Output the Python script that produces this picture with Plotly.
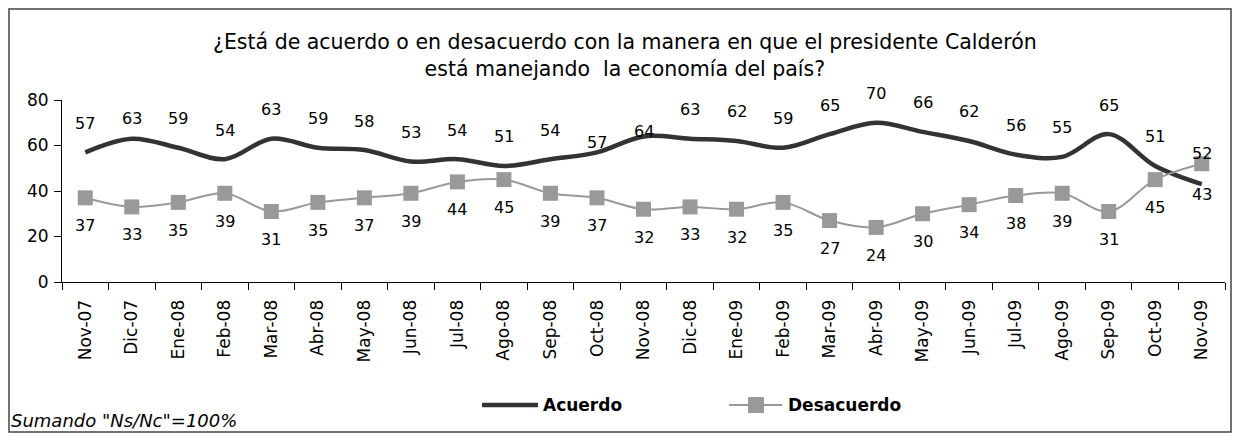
import plotly.graph_objects as go

months = ["Nov-07", "Dic-07", "Ene-08", "Feb-08", "Mar-08", "Abr-08", "May-08",
          "Jun-08", "Jul-08", "Ago-08", "Sep-08", "Oct-08", "Nov-08", "Dic-08",
          "Ene-09", "Feb-09", "Mar-09", "Abr-09", "May-09", "Jun-09", "Jul-09",
          "Ago-09", "Sep-09", "Oct-09", "Nov-09"]
acuerdo = [57, 63, 59, 54, 63, 59, 58, 53, 54, 51, 54, 57, 64, 63, 62, 59, 65,
           70, 66, 62, 56, 55, 65, 51, 43]
desacuerdo = [37, 33, 35, 39, 31, 35, 37, 39, 44, 45, 39, 37, 32, 33, 32, 35, 27,
              24, 30, 34, 38, 39, 31, 45, 52]

FONT = "DejaVu Sans, sans-serif"
DARK = "#333333"
GREY = "#999999"

# page is drawn with an 8px body margin; plot area spans page x 62..1225, y 100..282
PL, PR, PT, PB = 62, 1225, 100, 282


def px(x):
    return (x - PL) / (PR - PL)


def py(y):
    return (PB - y) / (PB - PT)


fig = go.Figure()

fig.add_trace(go.Scatter(
    x=months, y=acuerdo, name="Acuerdo", mode="lines",
    line=dict(color=DARK, width=4.5, shape="spline", smoothing=1),
))
fig.add_trace(go.Scatter(
    x=months, y=desacuerdo, name="Desacuerdo", mode="lines+markers",
    line=dict(color=GREY, width=2, shape="spline", smoothing=1),
    marker=dict(symbol="square", size=15, color=GREY),
))

# data labels: acuerdo above the line, desacuerdo below (a few nudged like the original)
ac_shift = {1: 20, 11: 10, 12: 5, 24: -10}
de_shift = {24: 10}
for i, m in enumerate(months):
    fig.add_annotation(x=m, y=acuerdo[i], text=str(acuerdo[i]), showarrow=False,
                       yshift=ac_shift.get(i, 29),
                       font=dict(family=FONT, size=16, color="black"))
    fig.add_annotation(x=m, y=desacuerdo[i], text=str(desacuerdo[i]), showarrow=False,
                       yshift=de_shift.get(i, -28),
                       font=dict(family=FONT, size=16, color="black"))

fig.add_annotation(
    xref="paper", yref="paper", x=px(625), y=py(56), xanchor="center", yanchor="middle",
    text="¿Está de acuerdo o en desacuerdo con la manera en que el presidente Calderón<br>"
         "está manejando  la economía del país?",
    showarrow=False, font=dict(family=FONT, size=20.5, color="black"),
)
fig.add_annotation(
    xref="paper", yref="paper", x=px(9), y=py(420), xanchor="left", yanchor="middle",
    text="<i>Sumando \"Ns/Nc\"=100%</i>", showarrow=False,
    font=dict(family=FONT, size=18, color="black"),
)

# legend drawn by hand
fig.add_shape(type="line", xref="paper", yref="paper",
              x0=px(482), x1=px(538), y0=py(405), y1=py(405),
              line=dict(color=DARK, width=4.5))
fig.add_annotation(xref="paper", yref="paper", x=px(541), y=py(405),
                   xanchor="left", yanchor="middle", showarrow=False, text="<b>Acuerdo</b>",
                   font=dict(family=FONT, size=17, color="black"))
fig.add_shape(type="line", xref="paper", yref="paper",
              x0=px(729), x1=px(782), y0=py(405), y1=py(405),
              line=dict(color=GREY, width=2))
fig.add_shape(type="rect", xref="paper", yref="paper",
              x0=px(748), x1=px(764), y0=py(413), y1=py(397),
              line=dict(width=0), fillcolor=GREY)
fig.add_annotation(xref="paper", yref="paper", x=px(786), y=py(405),
                   xanchor="left", yanchor="middle", showarrow=False, text="<b>Desacuerdo</b>",
                   font=dict(family=FONT, size=17, color="black"))

# outer frame
fig.add_shape(type="rect", xref="paper", yref="paper",
              x0=px(9), x1=px(1231), y0=py(432), y1=py(9),
              line=dict(color="#444444", width=1.5))

fig.update_layout(
    width=1224, height=425,
    margin=dict(l=PL - 8, r=1232 - PR, t=PT - 8, b=433 - PB),
    paper_bgcolor="white", plot_bgcolor="white",
    font=dict(family=FONT, size=17, color="black"),
    showlegend=False,
)

fig.update_xaxes(
    type="category", tickson="boundaries", ticks="outside", ticklen=7,
    tickcolor="black", tickangle=-90, showline=True, linecolor="black",
    linewidth=1, showgrid=False, range=[-0.5, len(months) - 0.5],
    tickfont=dict(size=17), ticklabelstandoff=10,
)
fig.update_yaxes(
    range=[0, 80], dtick=20, ticks="outside", ticklen=7, tickcolor="black",
    showline=True, linecolor="black", linewidth=1, showgrid=False,
    zeroline=False, tickfont=dict(size=17), ticklabelstandoff=2,
)

fig.write_html("out.html")
